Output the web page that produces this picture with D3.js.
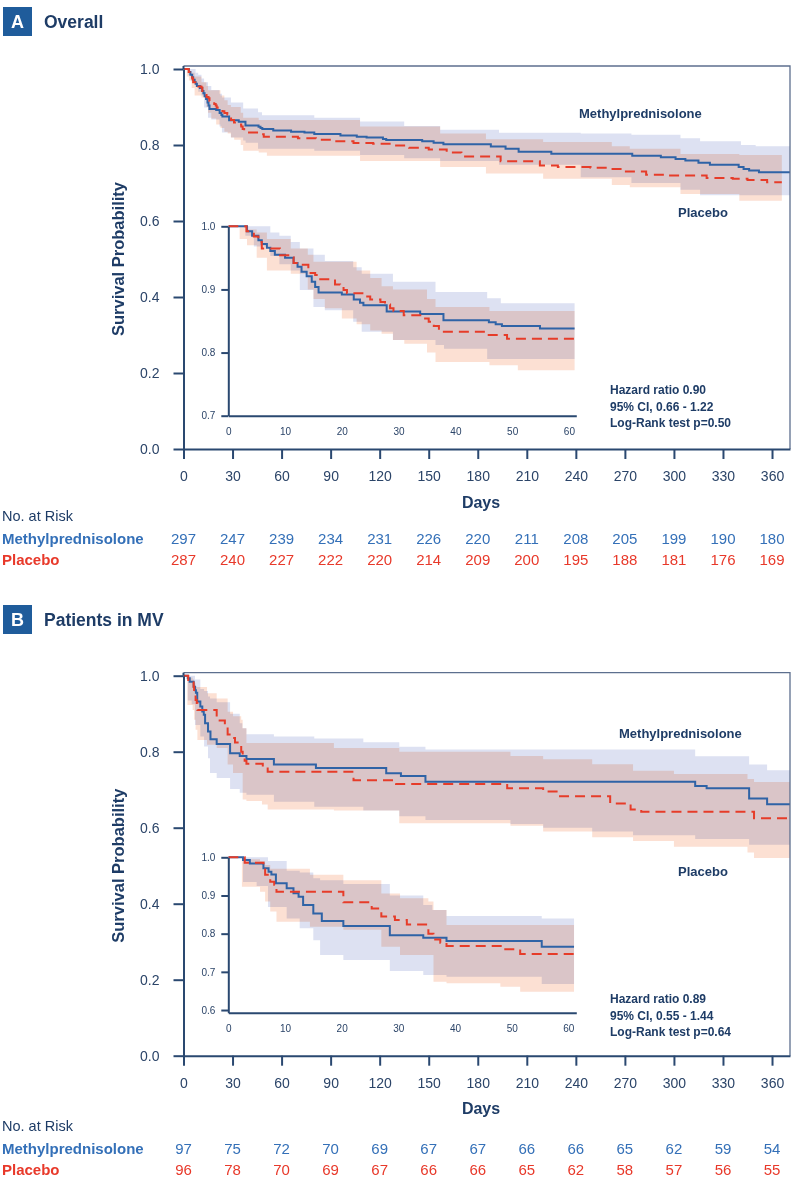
<!DOCTYPE html>
<html><head><meta charset="utf-8">
<script src="https://cdn.jsdelivr.net/npm/d3@7/dist/d3.min.js"></script>
<style>
body{margin:0;background:#fff}
svg{display:block;font-family:"Liberation Sans",Arial,Helvetica,sans-serif}
</style>
</head><body>
<svg id="chart" width="797" height="1179"></svg>
<script>
// ---------------- DATA ----------------
const xTickValues = [0,30,60,90,120,150,180,210,240,270,300,330,360];
const yTickValues = [0,0.2,0.4,0.6,0.8,1.0];
const insetXTicks = [0,10,20,30,40,50,60];
const insetYTicksA = [0.7,0.8,0.9,1.0];
const insetYTicksB = [0.6,0.7,0.8,0.9,1.0];
const seriesNames = ["Methylprednisolone","Placebo"];

// Panel A – Overall: [day, survival]
const A_mp_curve = [[0,1],[3.3,0.992],[4.2,0.985],[5.3,0.978],[5.9,0.972],[6.8,0.966],[7.4,0.961],[8.2,0.955],[10.0,0.950],[11.5,0.942],[12.2,0.936],[12.9,0.928],[13.8,0.921],[14.7,0.912],[15.3,0.904],[15.9,0.895],[20.0,0.892],[22.1,0.884],[23.2,0.879],[23.8,0.875],[27.9,0.865],[33.8,0.861],[37.9,0.851],[45.9,0.848],[47.1,0.845],[48.2,0.842],[54.9,0.838],[65.8,0.835],[74,0.833],[80,0.829],[96,0.825],[106,0.822],[112,0.820],[122,0.816],[124,0.813],[146,0.810],[153,0.806],[159,0.802],[188,0.796],[197,0.790],[205,0.782],[225,0.777],[274.5,0.772],[292,0.768],[301,0.763],[307,0.759],[315,0.753],[322,0.748],[339.6,0.742],[342.6,0.737],[346,0.733],[352,0.728],[371,0.728]];
const A_pl_curve = [[0,1],[3.2,0.992],[4.5,0.984],[5.3,0.975],[5.9,0.965],[9.1,0.954],[10.9,0.951],[11.5,0.942],[12.9,0.939],[14.1,0.926],[15.3,0.923],[15.9,0.916],[18.8,0.908],[19.7,0.904],[20.3,0.899],[20.9,0.894],[23.8,0.889],[25.0,0.884],[26.8,0.880],[27.6,0.876],[28.5,0.870],[29.1,0.866],[30.9,0.859],[34.4,0.854],[35.3,0.849],[36.2,0.842],[37.1,0.833],[45.6,0.828],[49.1,0.822],[70,0.818],[81,0.814],[92,0.810],[104,0.805],[116,0.803],[127,0.799],[138,0.793],[150,0.788],[161,0.780],[170,0.770],[194,0.757],[218,0.746],[229,0.742],[249,0.740],[261,0.737],[269,0.730],[283,0.722],[295,0.720],[320,0.713],[336,0.711],[345,0.708],[357,0.702],[366,0.702]];
// confidence bands: [day, lower, upper]
const A_mp_band = [[0,1,1],[3,0.985,1],[4.5,0.968,1],[7.4,0.953,0.99],[9,0.94,0.985],[11,0.93,0.975],[12.6,0.899,0.965],[15,0.872,0.955],[17,0.867,0.945],[22,0.849,0.935],[23.5,0.833,0.925],[29,0.82,0.912],[36.5,0.812,0.896],[38,0.806,0.896],[45.6,0.79,0.886],[48,0.79,0.878],[60,0.79,0.878],[80,0.785,0.872],[108,0.774,0.862],[135,0.765,0.85],[157,0.758,0.84],[193,0.748,0.832],[243,0.715,0.83],[274,0.70,0.827],[304,0.682,0.818],[316,0.668,0.81],[341,0.668,0.80],[350,0.668,0.797],[371,0.668,0.797]];
const A_pl_band = [[0,1,1],[2,0.98,1],[3.3,0.97,0.995],[5,0.95,0.99],[6.8,0.93,0.98],[11,0.925,0.965],[14,0.9,0.955],[15,0.885,0.944],[17,0.87,0.944],[20,0.854,0.944],[22.6,0.845,0.93],[25,0.835,0.918],[27,0.83,0.905],[29,0.82,0.9],[31,0.814,0.9],[35,0.80,0.885],[36.5,0.785,0.872],[46,0.78,0.866],[51,0.772,0.866],[60,0.772,0.866],[108,0.758,0.849],[157,0.742,0.83],[185,0.725,0.815],[220,0.711,0.808],[262,0.695,0.797],[273,0.689,0.79],[304,0.671,0.776],[340,0.653,0.774],[366,0.653,0.774]];
const A_mp_risk = [297,247,239,234,231,226,220,211,208,205,199,190,180];
const A_pl_risk = [287,240,227,222,220,214,209,200,195,188,181,176,169];
const A_stats = ["Hazard ratio 0.90","95% CI, 0.66 - 1.22","Log-Rank test p=0.50"];

// Panel B – Patients in MV
const B_mp_curve = [[0,1],[2.6,0.993],[3.8,0.984],[6.2,0.971],[7.1,0.962],[7.6,0.955],[8.4,0.932],[10.3,0.919],[11.5,0.906],[12.4,0.897],[13.2,0.875],[15.0,0.853],[16.5,0.833],[20.3,0.820],[28.5,0.796],[34.4,0.789],[38.5,0.781],[55.3,0.766],[81,0.757],[124,0.743],[133,0.736],[148,0.721],[313,0.710],[320,0.704],[346,0.677],[357,0.662],[371,0.662]];
const B_pl_curve = [[0,1],[2.9,0.986],[6.2,0.971],[6.5,0.954],[7.4,0.936],[8.1,0.928],[8.5,0.910],[20.3,0.882],[25.3,0.866],[27,0.845],[29.4,0.836],[31.5,0.824],[35.3,0.800],[36.2,0.785],[37.4,0.776],[38.5,0.768],[48.5,0.759],[51.5,0.747],[104,0.725],[130,0.715],[198,0.704],[220,0.695],[229,0.683],[261,0.664],[273.5,0.648],[280,0.642],[349,0.625],[370,0.625]];
const B_mp_band = [[0,1,1],[2.6,0.935,1],[5,0.925,1],[7,0.87,0.99],[10.3,0.84,0.965],[12.6,0.814,0.96],[15,0.783,0.945],[16.2,0.744,0.94],[20.3,0.731,0.93],[28.5,0.702,0.9],[34.4,0.692,0.875],[36,0.692,0.862],[38.5,0.687,0.846],[55.3,0.668,0.84],[80,0.655,0.835],[110,0.645,0.825],[132,0.63,0.813],[148,0.62,0.806],[200,0.61,0.806],[220,0.60,0.806],[250,0.59,0.806],[275,0.58,0.806],[313,0.57,0.788],[346,0.555,0.766],[357,0.555,0.751],[371,0.555,0.751]];
const B_pl_band = [[0,1,1],[2.4,0.923,1],[3,0.923,0.995],[5.6,0.91,0.99],[6.5,0.884,0.98],[7.4,0.858,0.97],[8.5,0.831,0.97],[14.4,0.818,0.954],[20.3,0.81,0.94],[27,0.766,0.905],[30.3,0.744,0.893],[35.3,0.744,0.884],[36.2,0.674,0.862],[38.5,0.67,0.823],[48,0.661,0.823],[51.5,0.648,0.823],[92,0.645,0.81],[132,0.612,0.80],[200,0.605,0.789],[220,0.59,0.78],[250,0.575,0.767],[275,0.565,0.75],[300,0.55,0.741],[345,0.535,0.728],[349,0.52,0.72],[371,0.52,0.72]];
const B_mp_risk = [97,75,72,70,69,67,67,66,66,65,62,59,54];
const B_pl_risk = [96,78,70,69,67,66,66,65,62,58,57,56,55];
const B_stats = ["Hazard ratio 0.89","95% CI, 0.55 - 1.44","Log-Rank test p=0.64"];

// ---------------- STYLE ----------------
const NAVY = "#2a4870", TXT = "#2b4468", TITLE = "#1e3c66";
const BLUE = "#2f63a6", RED = "#e63c29";
const BLUE_BAND = "#dde1f2", RED_BAND = "#fce0d3";
const RISK_BLUE = "#3470b8", RISK_RED = "#e8392a";

const svg = d3.select("#chart");
svg.append("rect").attr("width",797).attr("height",1179).attr("fill","#fff");

function styleAxis(g, fs, sw){
  g.selectAll(".domain").attr("stroke",NAVY).attr("stroke-width",sw);
  g.selectAll(".tick line").attr("stroke",NAVY).attr("stroke-width",sw);
  g.selectAll(".tick text").attr("fill",TXT).attr("font-size",fs).attr("font-family",null);
}

function clipData(arr, tmax){
  const out = arr.filter(d=>d[0] < tmax);
  const last = out[out.length-1];
  out.push([tmax, ...last.slice(1)]);
  return out;
}

let clipId = 0;
function drawCurves(g, x, y, mpCurve, plCurve, mpBand, plBand, clipRect, lw){
  const id = "clip"+(clipId++);
  svg.append("clipPath").attr("id",id).append("rect")
    .attr("x",clipRect[0]).attr("y",clipRect[1]).attr("width",clipRect[2]).attr("height",clipRect[3]);
  const cg = g.append("g").attr("clip-path",`url(#${id})`);
  const area = d3.area().x(d=>x(d[0])).y0(d=>y(d[1])).y1(d=>y(d[2])).curve(d3.curveStepAfter);
  const line = d3.line().x(d=>x(d[0])).y(d=>y(d[1])).curve(d3.curveStepAfter);
  cg.append("path").datum(mpBand).attr("d",area).attr("fill",BLUE_BAND).style("mix-blend-mode","multiply");
  cg.append("path").datum(plBand).attr("d",area).attr("fill",RED_BAND).style("mix-blend-mode","multiply");
  cg.append("path").datum(mpCurve).attr("d",line).attr("fill","none").attr("stroke",BLUE).attr("stroke-width",lw);
  cg.append("path").datum(plCurve).attr("d",line).attr("fill","none").attr("stroke",RED).attr("stroke-width",lw)
    .attr("stroke-dasharray","10,6");
}

function drawPanel(cfg){
  const oy = cfg.oy;
  const g = svg.append("g");
  // header
  g.append("rect").attr("x",3).attr("y",cfg.hy).attr("width",29).attr("height",29).attr("fill","#1f5c9b");
  g.append("text").attr("x",17.5).attr("y",cfg.hy+21).attr("text-anchor","middle").attr("fill","#fff")
    .attr("font-size",18).attr("font-weight","bold").text(cfg.letter);
  g.append("text").attr("x",44).attr("y",cfg.hy+21).attr("fill",TITLE)
    .attr("font-size",17.5).attr("font-weight","bold").text(cfg.title);

  // main scales
  const x = d3.scaleLinear().domain([0,371]).range([183.5,790]);
  const y = d3.scaleLinear().domain([0,1]).range([449+oy,69+oy]);
  const top = y(1)-3;

  drawCurves(g, x, y, cfg.mpCurve, cfg.plCurve, cfg.mpBand, cfg.plBand,
    [183.5, top, 790-183.5, y(0)-top], 2);

  // frame (top & right)
  g.append("path").attr("d",`M183.5,${top}H790V${y(0)}`).attr("fill","none")
    .attr("stroke","#5d6f8e").attr("stroke-width",1.3);

  const ax = g.append("g").attr("transform",`translate(0,${y(0)})`)
    .call(d3.axisBottom(x).tickValues(xTickValues).tickSize(10).tickPadding(12).tickSizeOuter(0));
  styleAxis(ax,14,2);
  const ay = g.append("g").attr("transform",`translate(183.5,0)`)
    .call(d3.axisLeft(y).tickValues(yTickValues).tickFormat(d3.format(".1f")).tickSize(10).tickPadding(14).tickSizeOuter(0));
  styleAxis(ay,14,2);
  g.append("line").attr("x1",183.5).attr("x2",183.5).attr("y1",top).attr("y2",y(1)).attr("stroke",NAVY).attr("stroke-width",2);

  g.append("text").attr("transform",`translate(118,${(y(0)+y(1))/2}) rotate(-90)`).attr("text-anchor","middle")
    .attr("dominant-baseline","central")
    .attr("fill",TITLE).attr("font-size",16.5).attr("font-weight","bold").text("Survival Probability");
  g.append("text").attr("x",481).attr("y",502+oy).attr("text-anchor","middle").attr("dominant-baseline","central")
    .attr("fill",TITLE).attr("font-size",16).attr("font-weight","bold").text("Days");

  // series labels
  g.append("text").attr("x",cfg.mpLab[0]).attr("y",cfg.mpLab[1]).attr("dominant-baseline","central")
    .attr("fill",TITLE).attr("font-size",13).attr("font-weight","bold").text(seriesNames[0]);
  g.append("text").attr("x",cfg.plLab[0]).attr("y",cfg.plLab[1]).attr("dominant-baseline","central")
    .attr("fill",TITLE).attr("font-size",13).attr("font-weight","bold").text(seriesNames[1]);

  // stats
  cfg.stats.forEach((s,i)=>{
    g.append("text").attr("x",610).attr("y",cfg.statY+i*16.5).attr("dominant-baseline","central")
      .attr("fill",TITLE).attr("font-size",12).attr("font-weight","bold").text(s);
  });

  // inset
  const ix = d3.scaleLinear().domain([0,cfg.inset.tmax]).range([228.3,576.3]);
  const iy = d3.scaleLinear().domain(cfg.inset.yDom).range([cfg.inset.bottom, cfg.inset.top]);
  const tm = 61;
  drawCurves(g, ix, iy, clipData(cfg.mpCurve,tm), clipData(cfg.plCurve,tm),
    clipData(cfg.mpBand,tm), clipData(cfg.plBand,tm),
    [228.3, iy(1)-3, 576.3-228.3, cfg.inset.bottom-iy(1)+3], 2);
  const iax = g.append("g").attr("transform",`translate(0,${cfg.inset.bottom})`)
    .call(d3.axisBottom(ix).tickValues(insetXTicks).tickSize(0).tickPadding(12).tickSizeOuter(0));
  styleAxis(iax,10,2);
  const iay = g.append("g").attr("transform",`translate(228.3,0)`)
    .call(d3.axisLeft(iy).tickValues(cfg.inset.yTicks).tickFormat(d3.format(".1f")).tickSize(7).tickPadding(6).tickSizeOuter(0));
  styleAxis(iay,10,2);

  // risk table
  const ry = cfg.riskY;
  g.append("text").attr("x",2).attr("y",ry[0]).attr("dominant-baseline","central").attr("fill",TITLE)
    .attr("font-size",14.5).text("No. at Risk");
  g.append("text").attr("x",2).attr("y",ry[1]).attr("dominant-baseline","central").attr("fill",RISK_BLUE)
    .attr("font-size",15).attr("font-weight","bold").text(seriesNames[0]);
  g.append("text").attr("x",2).attr("y",ry[2]).attr("dominant-baseline","central").attr("fill",RISK_RED)
    .attr("font-size",15).attr("font-weight","bold").text(seriesNames[1]);
  g.selectAll(null).data(cfg.mpRisk).enter().append("text")
    .attr("x",(d,i)=>x(xTickValues[i])).attr("y",ry[1]).attr("text-anchor","middle").attr("dominant-baseline","central")
    .attr("fill",RISK_BLUE).attr("font-size",15).text(d=>d);
  g.selectAll(null).data(cfg.plRisk).enter().append("text")
    .attr("x",(d,i)=>x(xTickValues[i])).attr("y",ry[2]).attr("text-anchor","middle").attr("dominant-baseline","central")
    .attr("fill",RISK_RED).attr("font-size",15).text(d=>d);
}

drawPanel({
  letter:"A", title:"Overall", hy:7, oy:0,
  mpCurve:A_mp_curve, plCurve:A_pl_curve, mpBand:A_mp_band, plBand:A_pl_band,
  mpRisk:A_mp_risk, plRisk:A_pl_risk, stats:A_stats, statY:390,
  mpLab:[579,113], plLab:[678,212],
  inset:{tmax:61.3, yDom:[0.7,1.0], bottom:415.7, top:226.3, yTicks:insetYTicksA},
  riskY:[516,538,559]
});
drawPanel({
  letter:"B", title:"Patients in MV", hy:605, oy:606.7,
  mpCurve:B_mp_curve, plCurve:B_pl_curve, mpBand:B_mp_band, plBand:B_pl_band,
  mpRisk:B_mp_risk, plRisk:B_pl_risk, stats:B_stats, statY:999,
  mpLab:[619,733], plLab:[678,871],
  inset:{tmax:61.4, yDom:[0.593,1.0], bottom:1012.7, top:857.3, yTicks:insetYTicksB},
  riskY:[1126,1148,1169]
});
</script>
</body></html>
